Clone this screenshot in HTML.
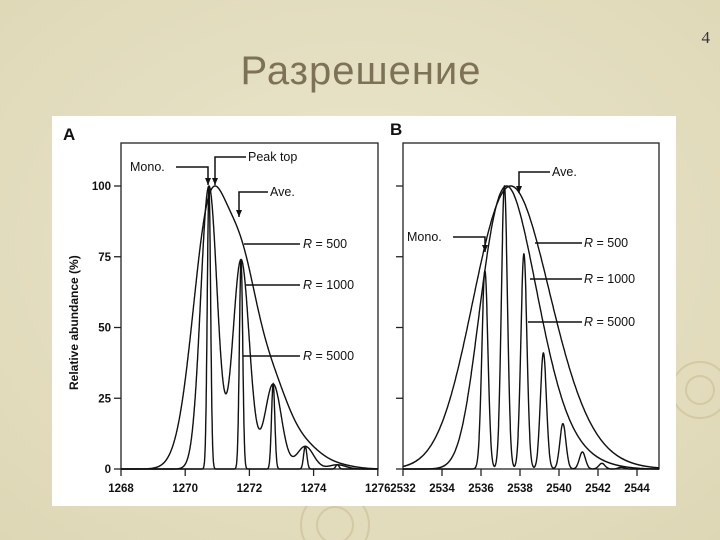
<!DOCTYPE html>
<html><head><meta charset="utf-8"><style>
html,body{margin:0;padding:0;width:720px;height:540px;overflow:hidden;background:#e7e1c5;}
svg{display:block}
text{font-family:"Liberation Sans",Arial,sans-serif;fill:#111}
</style></head><body>
<svg id="s" width="720" height="540" viewBox="0 0 720 540">
<defs>
<radialGradient id="bg" cx="0.5" cy="0.45" r="0.8">
<stop offset="0" stop-color="#ebe6cd"/><stop offset="1" stop-color="#ddd6b4"/>
</radialGradient>
<clipPath id="ca"><rect x="121" y="143" width="257" height="327"/></clipPath>
<clipPath id="cb"><rect x="403" y="143" width="256" height="327"/></clipPath>
</defs>
<rect width="720" height="540" fill="url(#bg)"/>
<g fill="none" stroke="#d3caa4" stroke-width="2">
<circle cx="335" cy="525" r="18"/><circle cx="335" cy="525" r="34"/>
<circle cx="700" cy="390" r="14"/><circle cx="700" cy="390" r="28"/>
</g>
<text x="710" y="43" text-anchor="end" style="font-family:'Liberation Serif',serif;font-size:17px;fill:#333">4</text>
<text x="361" y="84" text-anchor="middle" style="font-family:'Liberation Sans','Noto Sans CJK SC',sans-serif;font-size:40px;fill:#7d7256;letter-spacing:1px">Разрешение</text>
<rect x="52" y="116" width="624" height="390" fill="#fff"/>
<g id="chart"></g>
</svg>
<script>
const NS="http://www.w3.org/2000/svg";
const aMasses=[1270.74,1271.74,1272.74,1273.74,1274.74];
const aHeights=[100,74,30,8,1.5];
const bMasses=[2536.2,2537.2,2538.2,2539.2,2540.2,2541.2,2542.2,2543.2];
const bHeights=[70,100,76,41,16,6,2,0.6];
const resolutions=[500,1000,5000];
const yTicks=[0,25,50,75,100];
const aXTicks=[1268,1270,1272,1274,1276];
const bXTicks=[2532,2534,2536,2538,2540,2542,2544];
const g=document.getElementById('chart');
function el(t,a,p){const e=document.createElementNS(NS,t);for(const k in a)e.setAttribute(k,a[k]);(p||g).appendChild(e);return e;}
const yBase=469, yScale=2.83;
function Y(v){return yBase-v*yScale;}
function XA(m){return 121+(m-1268)*32.1;}
function XB(m){return 403+(m-2532)*19.5;}
function curve(masses,heights,R,lo,hi,f){
  const fwhm=masses[0]/R*f, s=fwhm/2.3548, pts=[];let mx=0;
  for(let m=lo;m<=hi;m+=0.005){let v=0;for(let i=0;i<masses.length;i++)v+=heights[i]*Math.exp(-((m-masses[i])**2)/(2*s*s));pts.push([m,v]);if(v>mx)mx=v;}
  return pts.map(p=>[p[0],p[1]/mx*100]);
}
function panel(X,x0,x1,masses,heights,lo,hi,xticks,showY,tag,clip,f){
  const ax=el('g',{});
  
  
  const box=el('rect',{x:x0,y:143,width:x1-x0,height:yBase-143,fill:'none',stroke:'#222','stroke-width':1.3},ax);
  
  
  yTicks.forEach(t=>{
    const l=el('line',{x1:x0-7,x2:x0,y1:Y(t),y2:Y(t),stroke:'#222','stroke-width':1.3},ax);
    
    
    if(showY){const tx=el('text',{x:x0-10,y:Y(t)+4,'text-anchor':'end','font-size':'11.5px','font-weight':'bold'},ax);tx.textContent=t;
      
      }
  });
  xticks.forEach(t=>{
    const l=el('line',{x1:X(t),x2:X(t),y1:yBase,y2:yBase+7,stroke:'#222','stroke-width':1.3},ax);
    
    
    const tx=el('text',{x:X(t),y:yBase+23,'text-anchor':'middle','font-size':'11.5px','font-weight':'bold'},ax);tx.textContent=t;
    
    
  });
  const cg=el('g',{'clip-path':'url(#'+clip+')'},ax);
  resolutions.forEach(R=>{
    const pts=curve(masses,heights,R,lo,hi,f);
    const d=pts.map((p,i)=>(i?'L':'M')+X(p[0]).toFixed(1)+' '+Y(p[1]).toFixed(1)).join(' ');
    const p=el('path',{d:d,fill:'none',stroke:'#111','stroke-width':1.4},cg);
    
    
  });
}
panel(XA,121,378,aMasses,aHeights,1268.0,1276.0,aXTicks,true,'a','ca',0.48);
panel(XB,403,659,bMasses,bHeights,2532.0,2545.2,bXTicks,false,'b','cb',0.72);
function txt(x,y,s,name,sz,w){const t=el('text',{x:x,y:y,'font-size':(sz||12.5)+'px','font-weight':w||'normal'});t.innerHTML=s;
  
  return t;}
function ln(pts,name,arrow){const d='M'+pts.map(p=>p.join(' ')).join(' L');const p=el('path',{d:d,fill:'none',stroke:'#111','stroke-width':1.5});
  
  
  if(arrow){const [x,y]=pts[pts.length-1];const a=el('path',{d:`M${x-3} ${y-7} L${x+3} ${y-7} L${x} ${y} Z`,fill:'#111'});
    
    }}
txt(63,140,'A','panel-a-label',17,'bold');
txt(390,135,'B','panel-b-label',17,'bold');
const yl=txt(0,0,'Relative abundance (%)','y-axis-title',12,'bold');
yl.setAttribute('transform','translate(78,390) rotate(-90)');
txt(130,171,'Mono.','a-mono-label');ln([[176,167],[208,167],[208,185]],'a-mono-arrow',true);
txt(248,161,'Peak top','a-peak-top-label');ln([[246,157],[215,157],[215,185]],'a-peak-top-arrow',true);
txt(270,196,'Ave.','a-ave-label');ln([[268,192],[239,192],[239,217]],'a-ave-arrow',true);
txt(303,248,'<tspan font-style="italic">R</tspan> = 500','a-r500-label');ln([[244,244],[300,244]],'a-r500-leader');
txt(303,289,'<tspan font-style="italic">R</tspan> = 1000','a-r1000-label');ln([[246,285],[300,285]],'a-r1000-leader');
txt(303,360,'<tspan font-style="italic">R</tspan> = 5000','a-r5000-label');ln([[243,356],[300,356]],'a-r5000-leader');
txt(552,176,'Ave.','b-ave-label');ln([[550,172],[519,172],[519,193]],'b-ave-arrow',true);
txt(407,241,'Mono.','b-mono-label');ln([[453,237],[485,237],[485,252]],'b-mono-arrow',true);
txt(584,247,'<tspan font-style="italic">R</tspan> = 500','b-r500-label');ln([[535,243],[582,243]],'b-r500-leader');
txt(584,283,'<tspan font-style="italic">R</tspan> = 1000','b-r1000-label');ln([[530,279],[582,279]],'b-r1000-leader');
txt(584,326,'<tspan font-style="italic">R</tspan> = 5000','b-r5000-label');ln([[528,322],[582,322]],'b-r5000-leader');
</script>
</body></html>
